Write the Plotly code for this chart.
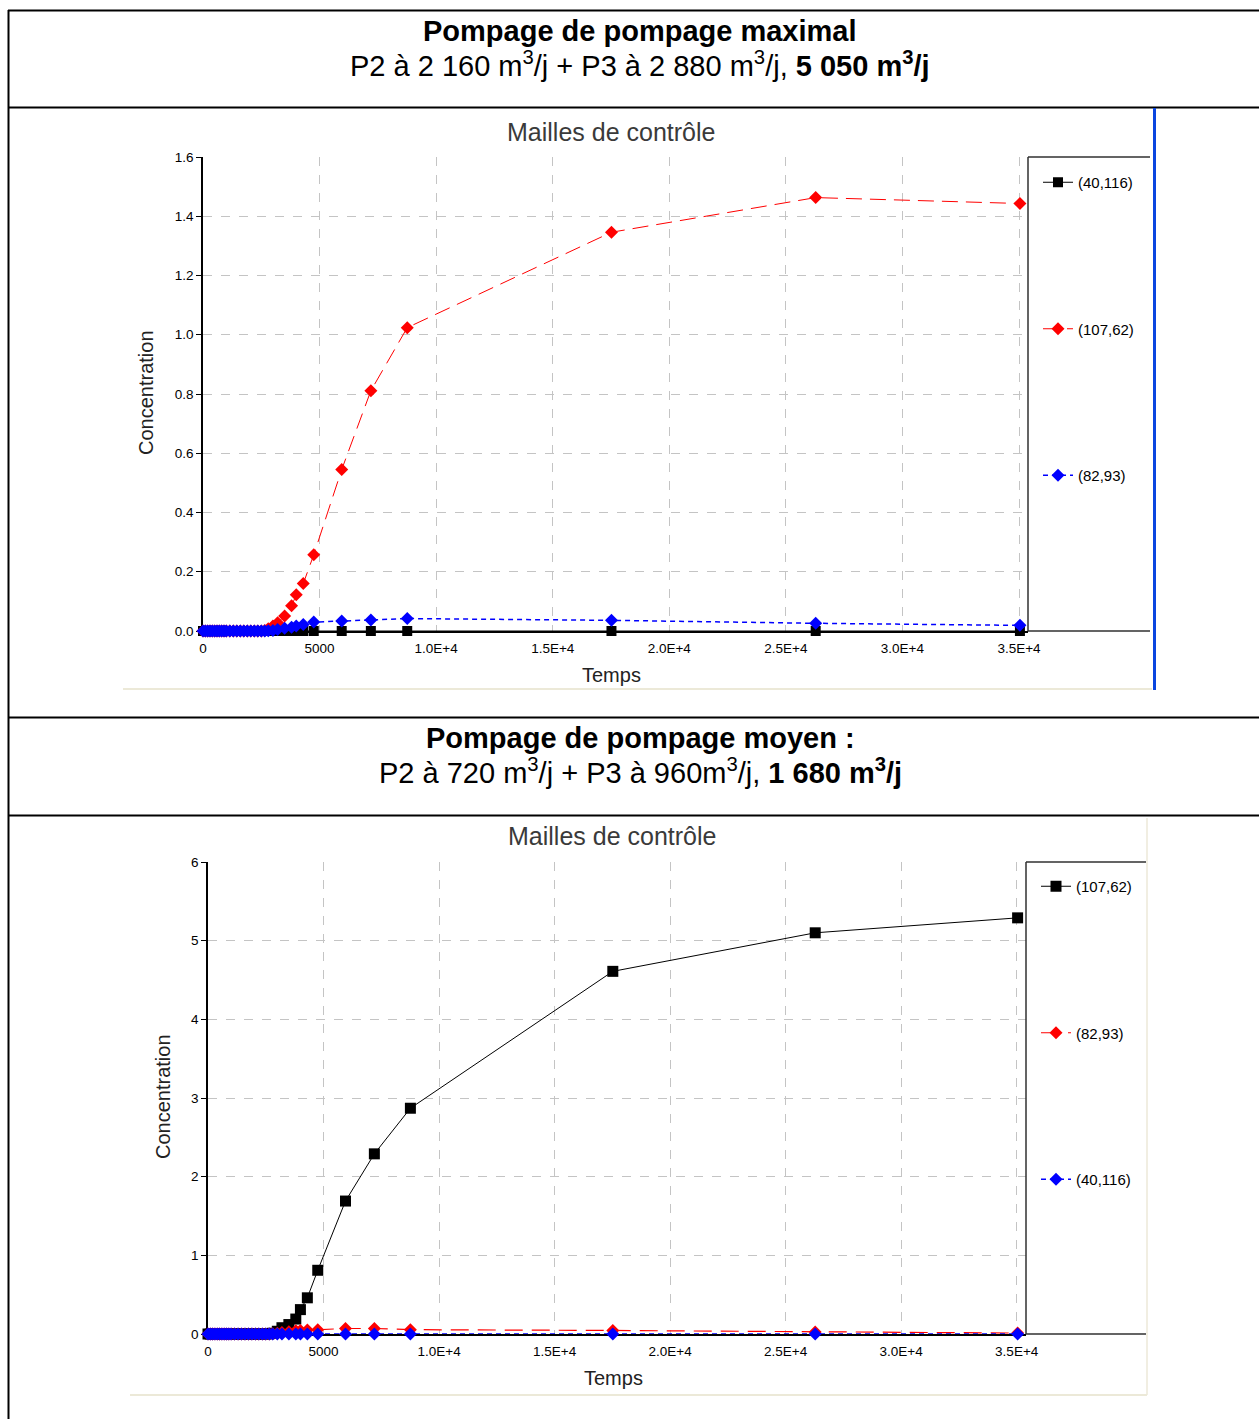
import plotly.graph_objects as go

W, H = 1259, 1419

# ---------------- data ----------------
temps = [0, 100, 200, 300, 400, 500, 600, 700, 800, 900, 1000, 1150, 1300, 1450,
         1600, 1750, 1900, 2050, 2200, 2350, 2500, 2650, 2800, 3000, 3200, 3500,
         3800, 4000, 4300, 4750, 5950, 7200, 8760, 17520, 26280, 35040]

# Chart 1 : pompage maximal
max_40_116 = [0.0] * 36
max_107_62 = [0, 0, 0, 0, 0, 0, 0, 0, 0, 0, 0, 0, 0, 0, 0, 0, 0, 0, 0, 0, 0, 0.002,
              0.008, 0.017, 0.028, 0.051, 0.085, 0.122, 0.160, 0.257, 0.545, 0.811,
              1.024, 1.346, 1.463, 1.443]
max_82_93 = [0, 0, 0, 0, 0, 0, 0, 0, 0, 0, 0, 0, 0, 0, 0, 0, 0, 0, 0, 0, 0, 0,
             0.001, 0.002, 0.005, 0.009, 0.013, 0.017, 0.022, 0.030, 0.034, 0.037,
             0.042, 0.036, 0.026, 0.019]

# Chart 2 : pompage moyen
moy_107_62 = [0, 0, 0, 0, 0, 0, 0, 0, 0, 0, 0, 0, 0, 0, 0, 0, 0, 0, 0, 0, 0, 0.003,
              0.01, 0.035, 0.08, 0.12, 0.19, 0.31, 0.46, 0.81, 1.69, 2.29, 2.87,
              4.61, 5.10, 5.29]
moy_82_93 = [0, 0, 0, 0, 0, 0, 0, 0, 0, 0, 0, 0, 0, 0, 0, 0, 0, 0, 0, 0, 0, 0,
             0.003, 0.01, 0.02, 0.03, 0.04, 0.045, 0.05, 0.055, 0.07, 0.07, 0.055,
             0.045, 0.025, 0.012]
moy_40_116 = [0.0] * 36

x_tickvals = [0, 5000, 10000, 15000, 20000, 25000, 30000, 35000]
x_ticktext = ["0", "5000", "1.0E+4", "1.5E+4", "2.0E+4", "2.5E+4", "3.0E+4", "3.5E+4"]
y1_tickvals = [0, 0.2, 0.4, 0.6, 0.8, 1.0, 1.2, 1.4, 1.6]
y2_tickvals = [0, 1, 2, 3, 4, 5, 6]


def px(x):
    return x / W


def py(y):
    return 1 - y / H


fig = go.Figure()

FONT = "Liberation Sans, Arial, sans-serif"

# ---------------- traces chart 1 ----------------
fig.add_trace(go.Scatter(x=temps, y=max_40_116, name="(40,116)", mode="lines+markers",
                         line=dict(color="black", width=1),
                         marker=dict(symbol="square", size=10, color="black"),
                         xaxis="x", yaxis="y", legend="legend", legendgroup="a1",
                         cliponaxis=False))
fig.add_trace(go.Scatter(x=temps, y=max_107_62, name="(107,62)", mode="lines+markers",
                         line=dict(color="#ff0000", width=1, dash="16px,8px"),
                         marker=dict(symbol="diamond", size=10, color="#ff0000"),
                         xaxis="x", yaxis="y", legend="legend", legendgroup="b1",
                         cliponaxis=False))
fig.add_trace(go.Scatter(x=temps, y=max_82_93, name="(82,93)", mode="lines+markers",
                         line=dict(color="#0000ff", width=1.5, dash="5px,4px"),
                         marker=dict(symbol="diamond", size=10, color="#0000ff"),
                         xaxis="x", yaxis="y", legend="legend", legendgroup="c1",
                         cliponaxis=False))

# ---------------- traces chart 2 ----------------
fig.add_trace(go.Scatter(x=temps, y=moy_107_62, name="(107,62)", mode="lines+markers",
                         line=dict(color="black", width=1),
                         marker=dict(symbol="square", size=11, color="black"),
                         xaxis="x2", yaxis="y2", legend="legend2", legendgroup="a2",
                         cliponaxis=False))
fig.add_trace(go.Scatter(x=temps, y=moy_82_93, name="(82,93)", mode="lines+markers",
                         line=dict(color="#ff0000", width=1.2, dash="18px,9px"),
                         marker=dict(symbol="diamond", size=10, color="#ff0000"),
                         xaxis="x2", yaxis="y2", legend="legend2", legendgroup="b2",
                         cliponaxis=False))
fig.add_trace(go.Scatter(x=temps, y=moy_40_116, name="(40,116)", mode="lines+markers",
                         line=dict(color="#0000ff", width=1.5, dash="5px,4px"),
                         marker=dict(symbol="diamond", size=10, color="#0000ff"),
                         xaxis="x2", yaxis="y2", legend="legend2", legendgroup="c2",
                         cliponaxis=False))

axis_common = dict(showline=True, linecolor="black", linewidth=1.5, zeroline=False,
                   showgrid=True, gridcolor="#c4c4c4", griddash="dash", gridwidth=1,
                   tickfont=dict(family=FONT, size=13.5, color="black"),
                   layer="below traces", automargin=False)

fig.update_layout(
    width=W, height=H, autosize=False,
    margin=dict(l=0, r=0, t=0, b=0, pad=0, autoexpand=False),
    paper_bgcolor="white", plot_bgcolor="white",
    font=dict(family=FONT, color="black"),
    xaxis=dict(domain=[px(203), px(1028)], range=[0, 35386], anchor="y",
               tickmode="array", tickvals=x_tickvals, ticktext=x_ticktext,
               ticks="", ticklabelstandoff=4, **axis_common),
    yaxis=dict(domain=[py(631), py(157)], range=[0, 1.6], anchor="x",
               tickmode="array", tickvals=y1_tickvals, tickformat=".1f",
               ticks="outside", ticklen=5, tickcolor="black", **axis_common),
    xaxis2=dict(domain=[px(208), px(1026)], range=[0, 35403], anchor="y2",
                tickmode="array", tickvals=x_tickvals, ticktext=x_ticktext,
                ticks="", ticklabelstandoff=4, **axis_common),
    yaxis2=dict(domain=[py(1334), py(862)], range=[0, 6], anchor="x2",
                tickmode="array", tickvals=y2_tickvals,
                ticks="outside", ticklen=5, tickcolor="black", **axis_common),
    legend=dict(x=px(1038), y=py(166), xanchor="left", yanchor="top",
                traceorder="grouped", tracegroupgap=124, bgcolor="rgba(0,0,0,0)",
                font=dict(family=FONT, size=15, color="black"), itemwidth=30),
    legend2=dict(x=px(1036), y=py(870), xanchor="left", yanchor="top",
                 traceorder="grouped", tracegroupgap=124, bgcolor="rgba(0,0,0,0)",
                 font=dict(family=FONT, size=15, color="black"), itemwidth=30),
)

# ---------------- shapes (table borders, panels, legend boxes) ----------------
def line(x0, y0, x1, y1, color="black", width=2):
    fig.add_shape(type="line", xref="paper", yref="paper",
                  x0=px(x0), y0=py(y0), x1=px(x1), y1=py(y1),
                  line=dict(color=color, width=width), layer="above")

# table
line(8.5, 10, 8.5, H, width=2)
for yy in (10.5, 107.5, 717.5, 815.5):
    line(8, yy, W, yy, width=2)

# chart 1 panel
line(123, 689, 1152, 689, color="#ece9d8", width=2)
line(1154.5, 108, 1154.5, 690, color="#0a46e0", width=3)
# chart 2 panel
line(130, 1395, 1147, 1395, color="#ece9d8", width=2)
line(1147, 818, 1147, 1395, color="#ece9d8", width=1.5)

# legend boxes
line(1028, 157, 1150, 157, color="#303030", width=1.5)
line(1028, 157, 1028, 631, color="#303030", width=1.5)
line(1028, 631, 1150, 631, color="#303030", width=1.5)
line(1026, 862, 1146, 862, color="#303030", width=1.5)
line(1026, 862, 1026, 1334, color="#303030", width=1.5)
line(1026, 1334, 1146, 1334, color="#303030", width=1.5)

# ---------------- texts ----------------
def text(x, y, s, size, color="black", angle=0):
    fig.add_annotation(xref="paper", yref="paper", x=px(x), y=py(y), text=s,
                       showarrow=False, xanchor="center", yanchor="middle",
                       textangle=angle, font=dict(family=FONT, size=size, color=color))

text(640, 31, "<b>Pompage de pompage maximal</b>", 29)
text(640, 64, "P2 à 2 160 m<sup>3</sup>/j + P3 à 2 880 m<sup>3</sup>/j, "
              "<b>5 050 m<sup>3</sup>/j</b>", 29)
text(640, 738, "<b>Pompage de pompage moyen :</b>", 29)
text(640, 771, "P2 à 720 m<sup>3</sup>/j + P3 à 960m<sup>3</sup>/j, "
               "<b>1 680 m<sup>3</sup>/j</b>", 29)

text(611, 132, "Mailles de contrôle", 25, color="#3a3a3a")
text(612, 836, "Mailles de contrôle", 25, color="#3a3a3a")
text(146, 393, "Concentration", 20, color="#222222", angle=-90)
text(163, 1097, "Concentration", 20, color="#222222", angle=-90)
text(611, 675, "Temps", 20, color="#222222")
text(613, 1378, "Temps", 20, color="#222222")

fig.write_html("out.html", config={"displayModeBar": False},
               post_script="document.body.style.margin='0';document.body.style.overflow='hidden';")
